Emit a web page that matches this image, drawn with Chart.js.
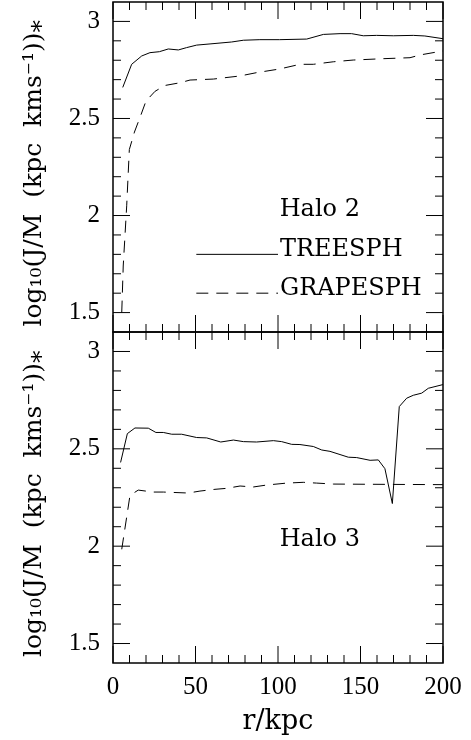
<!DOCTYPE html>
<html>
<head>
<meta charset="utf-8">
<script src="https://cdn.jsdelivr.net/npm/chart.js@4.4.1/dist/chart.umd.min.js"></script>
<style>
body { margin: 0; background: #fff; }
#wrap { position: relative; width: 471px; height: 740px; }
#wrap div { position: absolute; left: 0; width: 471px; }
#top { top: 0; height: 334px; }
#bot { top: 330px; height: 410px; }
</style>
</head>
<body>
<div id="wrap">
  <div id="top"><canvas id="halo2"></canvas></div>
  <div id="bot"><canvas id="halo3"></canvas></div>
</div>
<script>
// Halo 2
var h2TreeR = [5.9, 11.3, 17.4, 22.4, 28.1, 33.5, 39.6, 44.6, 50.7, 58.8, 71.9, 79, 89, 101, 117.4, 127.5, 137.6, 144.6, 151.7, 159.8, 169.9, 182, 189, 200];
var h2TreeJ = [2.66, 2.779, 2.822, 2.839, 2.844, 2.858, 2.853, 2.865, 2.878, 2.884, 2.894, 2.903, 2.906, 2.906, 2.909, 2.933, 2.937, 2.937, 2.926, 2.928, 2.926, 2.928, 2.925, 2.911];
var h2GrapeR = [5.3, 6.2, 8.3, 9.9, 13, 17, 20, 25.5, 31.5, 40.6, 46.7, 60.8, 77, 87, 101, 113.3, 121.4, 133.5, 145.6, 163.8, 180, 186, 200];
var h2GrapeJ = [1.50, 1.74, 2.05, 2.34, 2.43, 2.52, 2.59, 2.64, 2.67, 2.684, 2.698, 2.703, 2.719, 2.736, 2.755, 2.779, 2.779, 2.792, 2.801, 2.808, 2.813, 2.827, 2.848];

// Halo 3, bottom panel
var h3TreeR = [4.6, 8.7, 13.3, 21.4, 26, 30.5, 35.6, 41.6, 50.7, 56.8, 65.3, 73, 79, 87, 97.2, 102.2, 108.3, 113.3, 121.4, 126.5, 131.5, 142.6, 147.7, 155.8, 160.8, 164.8, 169.3, 173.5, 178, 182, 187.1, 191.1, 200];
var h3TreeJ = [2.43, 2.578, 2.607, 2.606, 2.584, 2.584, 2.575, 2.575, 2.558, 2.556, 2.535, 2.545, 2.537, 2.535, 2.542, 2.537, 2.523, 2.522, 2.512, 2.494, 2.487, 2.457, 2.455, 2.441, 2.443, 2.398, 2.219, 2.717, 2.76, 2.775, 2.786, 2.811, 2.83];
var h3GrapeR = [5.3, 10.3, 15.3, 24.4, 30.5, 45.6, 52.7, 61.8, 68.9, 77, 85, 93.1, 105.3, 115.3, 123.4, 133.5, 153.7, 200];
var h3GrapeJ = [1.984, 2.261, 2.288, 2.278, 2.278, 2.273, 2.283, 2.292, 2.297, 2.309, 2.304, 2.314, 2.324, 2.328, 2.324, 2.319, 2.318, 2.316];

var xTicks = [0, 50, 100, 150, 200];
var yTicks = [1.5, 2, 2.5, 3];
// trailing en space nudges the rotated title a little down, as in the original
var yTitle = 'log\u2081\u2080(J/M  (kpc  kms\u207B\u00B9))\u204E\u2002';

function pts(xs, ys) {
    var out = [];
    for (var i = 0; i < xs.length; i++) out.push({ x: xs[i], y: ys[i] });
    return out;
}

// box round the plot with inward ticks on all four sides
var frameTicks = {
    id: 'frameTicks',
    afterDraw: function (chart) {
        var ctx = chart.ctx, a = chart.chartArea;
        var sx = chart.scales.x, sy = chart.scales.y;
        ctx.save();
        ctx.strokeStyle = '#000';
        ctx.lineWidth = 1;
        ctx.beginPath();
        for (var v = 0; v <= 200; v += 10) {
            var px = sx.getPixelForValue(v);
            var len = v % 50 === 0 ? 17 : 8;
            ctx.moveTo(px, a.bottom); ctx.lineTo(px, a.bottom - len);
            ctx.moveTo(px, a.top); ctx.lineTo(px, a.top + len);
        }
        for (var i = 15; i <= 30; i++) {
            var py = sy.getPixelForValue(i / 10);
            var l2 = i % 5 === 0 ? 17 : 8;
            ctx.moveTo(a.left, py); ctx.lineTo(a.left + l2, py);
            ctx.moveTo(a.right, py); ctx.lineTo(a.right - l2, py);
        }
        ctx.stroke();
        ctx.lineWidth = 1.5;
        ctx.strokeRect(a.left, a.top, a.right - a.left, a.bottom - a.top);
        ctx.restore();
    }
};

var notes = {
    id: 'notes',
    afterDatasetsDraw: function (chart, args, opts) {
        var ctx = chart.ctx, sx = chart.scales.x, sy = chart.scales.y;
        ctx.save();
        ctx.font = '24px "DejaVu Serif"';
        ctx.fillStyle = '#000';
        ctx.textAlign = 'left';
        ctx.textBaseline = 'alphabetic';
        ctx.fillText(opts.title, sx.getPixelForValue(opts.at[0]), sy.getPixelForValue(opts.at[1]));
        (opts.keys || []).forEach(function (k) {
            var ds = chart.data.datasets[k.dataset];
            var py = sy.getPixelForValue(k.y);
            var x1 = sx.getPixelForValue(k.from), x2 = sx.getPixelForValue(k.to);
            ctx.strokeStyle = ds.borderColor;
            ctx.lineWidth = ds.borderWidth;
            ctx.setLineDash(ds.borderDash || []);
            ctx.beginPath();
            ctx.moveTo(x1, py); ctx.lineTo(x2, py);
            ctx.stroke();
            ctx.fillText(ds.label, x2 + 2, py + 2);
        });
        ctx.restore();
    }
};

function makePanel(id, treeR, treeJ, grapeR, grapeJ, withX, note) {
    var serif = { family: 'Liberation Serif', size: 25 };
    var textFont = { family: 'DejaVu Serif', size: 25 };
    return new Chart(document.getElementById(id), {
        type: 'line',
        data: {
            datasets: [{
                label: 'TREESPH',
                data: pts(treeR, treeJ),
                borderColor: '#000',
                borderWidth: 1,
                pointRadius: 0,
                tension: 0,
                fill: false
            }, {
                label: 'GRAPESPH',
                data: pts(grapeR, grapeJ),
                borderColor: '#000',
                borderWidth: 1,
                borderDash: [12, 8],
                pointRadius: 0,
                tension: 0,
                fill: false
            }]
        },
        options: {
            responsive: true,
            maintainAspectRatio: false,
            animation: false,
            events: [],
            layout: { padding: { top: 2, right: 28, bottom: 0, left: 0 } },
            plugins: {
                legend: { display: false },
                tooltip: { enabled: false },
                notes: note
            },
            scales: {
                x: {
                    type: 'linear',
                    min: 0,
                    max: 200,
                    afterBuildTicks: function (s) { s.ticks = xTicks.map(function (v) { return { value: v }; }); },
                    afterFit: function (s) { s.height = withX ? 77 : 2; s.paddingLeft = 0; s.paddingRight = 0; },
                    grid: { display: false, drawTicks: false },
                    border: { display: false },
                    ticks: {
                        display: withX,
                        padding: 9,
                        color: '#000',
                        font: serif,
                        maxRotation: 0,
                        autoSkip: false,
                        callback: function (v) { return String(v); }
                    },
                    title: { display: withX, text: 'r/kpc', color: '#000', font: { family: 'DejaVu Serif', size: 27 }, padding: { top: 0, bottom: 2 } }
                },
                y: {
                    min: 1.4,
                    max: 3.1,
                    afterBuildTicks: function (s) { s.ticks = yTicks.map(function (v) { return { value: v }; }); },
                    afterFit: function (s) { s.width = 113; s.paddingTop = 0; s.paddingBottom = 0; },
                    grid: { display: false, drawTicks: false },
                    border: { display: false },
                    ticks: {
                        padding: 13,
                        color: '#000',
                        font: serif,
                        callback: function (v) { return String(v); }
                    },
                    title: { display: true, text: yTitle, color: '#000', font: textFont, padding: { top: 19, bottom: 0 } }
                }
            }
        },
        plugins: [frameTicks, notes]
    });
}

makePanel('halo2', h2TreeR, h2TreeJ, h2GrapeR, h2GrapeJ, false, {
    title: 'Halo 2',
    at: [101, 2.0],
    keys: [{ dataset: 0, from: 50.5, to: 100, y: 1.8 }, { dataset: 1, from: 50.5, to: 100, y: 1.6 }]
});
makePanel('halo3', h3TreeR, h3TreeJ, h3GrapeR, h3GrapeJ, true, {
    title: 'Halo 3',
    at: [101, 2.0],
    keys: []
});
</script>
</body>
</html>
